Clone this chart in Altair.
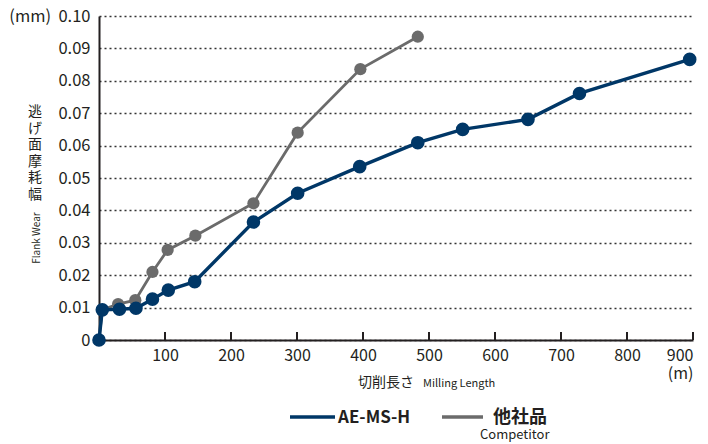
import altair as alt
import pandas as pd

# ---- data ----
x_blue = [0, 5, 31, 56, 81, 105, 145, 234, 301, 395, 483, 551, 650, 728, 895]
y_blue = [0.0, 0.0093, 0.0095, 0.0098, 0.0126, 0.0154, 0.018, 0.0364, 0.0453,
          0.0535, 0.0609, 0.065, 0.0681, 0.0761, 0.0866]
x_gray = [0, 5, 29, 55, 81, 104, 146, 234, 301, 396, 483]
y_gray = [0.0, 0.0093, 0.0111, 0.0123, 0.021, 0.0278, 0.0322, 0.0422, 0.064,
          0.0836, 0.0936]
x_ticks = [100, 200, 300, 400, 500, 600, 700, 800, 900]
y_ticks = [0, 0.01, 0.02, 0.03, 0.04, 0.05, 0.06, 0.07, 0.08, 0.09, 0.1]
series_names = ["AE-MS-H", "他社品"]

BLUE = "#003767"
GRAY = "#6b6b6b"
INK = "#231f20"
FONT = "Noto Sans CJK JP"

W, H = 594, 324

blue_df = pd.DataFrame({"x": x_blue, "y": y_blue})
gray_df = pd.DataFrame({"x": x_gray, "y": y_gray})
tick_df = pd.DataFrame({"x": x_ticks})

xscale = alt.Scale(domain=[0, 900], nice=False, zero=True)
yscale = alt.Scale(domain=[0, 0.1], nice=False)

x_axis = alt.Axis(
    values=x_ticks, tickCount=20, tickSize=0, labelPadding=7, labelFontSize=16,
    labelColor=INK, labelFont=FONT, domainColor=INK, domainWidth=2,
    grid=False, labelLineHeight=18, labelOverlap=False,
    labelExpr="datum.value == 900 ? ['900', '(m)'] : datum.label",
)
y_axis = alt.Axis(
    values=y_ticks, tickCount=20, tickSize=0, labelPadding=9, labelFontSize=16.5,
    labelColor=INK, labelFont=FONT, domainColor=INK, domainWidth=2,
    grid=True, gridDash=[2, 3], gridColor="#333333", gridWidth=1.3,
    labelOverlap=False,
    labelExpr="datum.value == 0 ? '0' : (datum.value > 0.099 ? '(mm)\u00a0 0.10' : format(datum.value, '.2f'))",
)

base_axes = alt.Chart(blue_df).mark_point(opacity=0).encode(
    x=alt.X("x:Q", scale=xscale, axis=x_axis, title=None),
    y=alt.Y("y:Q", scale=yscale, axis=y_axis, title=None),
)

gray_line = alt.Chart(gray_df).mark_line(
    color=GRAY, strokeWidth=2.8,
    point=alt.OverlayMarkDef(filled=True, color=GRAY, size=150, opacity=1),
).encode(
    x=alt.X("x:Q", scale=xscale),
    y=alt.Y("y:Q", scale=yscale),
)

blue_line = alt.Chart(blue_df).mark_line(
    color=BLUE, strokeWidth=3.4,
    point=alt.OverlayMarkDef(filled=True, color=BLUE, size=185, opacity=1),
).encode(
    x=alt.X("x:Q", scale=xscale),
    y=alt.Y("y:Q", scale=yscale),
)

inner_ticks = alt.Chart(tick_df).mark_rule(color=INK, strokeWidth=2).encode(
    x=alt.X("x:Q", scale=xscale),
    y=alt.value(H),
    y2=alt.value(H - 8),
)

def label(text, x, y, size, align="left", baseline="alphabetic", weight="normal",
          angle=0, line_height=None):
    kw = dict(text=text, align=align, baseline=baseline, fontSize=size,
              font=FONT, color=INK, fontWeight=weight)
    if angle:
        kw["angle"] = angle
    if line_height:
        kw["lineHeight"] = line_height
    return alt.Chart(blue_df.head(1)).mark_text(**kw).encode(
        x=alt.value(x), y=alt.value(y)
    )

y_title_jp = label(list("逃げ面摩耗幅"), -64, 89, 14, align="center",
                   baseline="top", line_height=16.5)
y_title_en = label("Flank Wear", -62, 222, 10, align="center",
                   baseline="middle", angle=270)
x_title_jp = label("切削長さ", 259, 371, 14)
x_title_en = label("Milling Length", 324, 371, 11)

leg_blue = alt.Chart(blue_df.head(1)).mark_rule(color=BLUE, strokeWidth=3.4).encode(
    x=alt.value(191), x2=alt.value(236), y=alt.value(401)
)
leg_gray = alt.Chart(blue_df.head(1)).mark_rule(color=GRAY, strokeWidth=3.4).encode(
    x=alt.value(343), x2=alt.value(384), y=alt.value(401)
)
leg_t1 = label(series_names[0], 239, 407, 17, weight="bold")
leg_t2 = label(series_names[1], 394, 407, 18, weight="bold")
leg_t3 = label("Competitor", 381, 423, 13)

chart = alt.layer(
    base_axes, inner_ticks, gray_line, blue_line,
    y_title_jp, y_title_en, x_title_jp, x_title_en,
    leg_blue, leg_gray, leg_t1, leg_t2, leg_t3,
).properties(
    width=W, height=H,
    autosize=alt.AutoSizeParams(type="none"),
    padding={"left": 91, "top": 8, "right": 5, "bottom": 102},
).configure_view(stroke=None)

chart.save("out.html", embed_options={"renderer": "svg", "actions": False})
